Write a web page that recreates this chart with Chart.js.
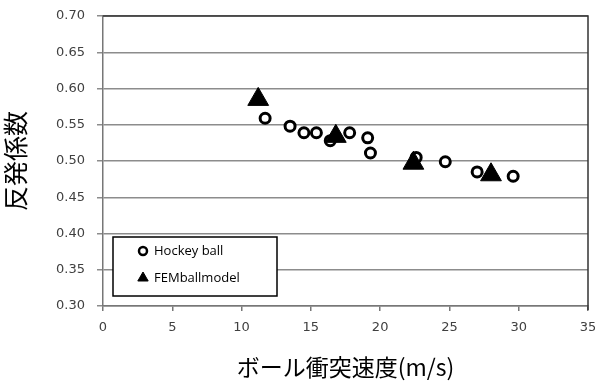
<!DOCTYPE html>
<html>
<head>
<meta charset="utf-8">
<script src="https://cdn.jsdelivr.net/npm/chart.js@4.4.0/dist/chart.umd.min.js"></script>
<style>
  html, body { margin: 0; padding: 0; background: #fff; }
  #wrap { width: 595px; height: 385px; }
</style>
</head>
<body>
<div id="wrap"><canvas id="chart" width="595" height="385"></canvas></div>
<script>
// measured values
const hockeyX = [11.7, 13.5, 14.5, 15.4, 16.4, 17.8, 19.1, 19.3, 22.6, 24.7, 27.0, 29.6];
const hockeyY = [0.559, 0.548, 0.539, 0.539, 0.528, 0.539, 0.532, 0.511, 0.505, 0.499, 0.485, 0.479];
const femX = [11.2, 16.8, 22.4, 28.0];
const femY = [0.585, 0.534, 0.497, 0.481];

const seriesNames = ['Hockey ball', 'FEMballmodel'];
const xTitle = 'ボール衝突速度(m/s)';
const yTitle = '反発係数';

function toPoints(xs, ys) {
    return xs.map((x, i) => ({ x: x, y: ys[i] }));
}

// let the plot run nearly to the right edge (the "35" label may overhang)
const stretchPlugin = {
    id: 'stretch',
    afterLayout(chart) {
        const a = chart.chartArea;
        const xs = chart.scales.x;
        const right = chart.width - 7;
        a.right = right;
        a.width = right - a.left;
        xs.right = right;
        xs.width = right - xs.left;
        xs.configure();
    }
};

// frame around plot + legend box inside the plot area
const framePlugin = {
    id: 'frame',
    afterDraw(chart) {
        const ctx = chart.ctx;
        const a = chart.chartArea;
        ctx.save();
        ctx.strokeStyle = '#333';
        ctx.lineWidth = 1.5;
        ctx.beginPath();
        ctx.moveTo(a.left, a.top);
        ctx.lineTo(a.right, a.top);
        ctx.lineTo(a.right, a.bottom + 4);
        ctx.stroke();

        // legend
        const bx = a.left + 10, bw = 164, bh = 59;
        const by = a.bottom - 10 - bh;
        ctx.fillStyle = '#fff';
        ctx.fillRect(bx, by, bw, bh);
        ctx.strokeStyle = '#000';
        ctx.lineWidth = 1.5;
        ctx.strokeRect(bx, by, bw, bh);
        ctx.font = '13px "Open Sans", sans-serif';
        ctx.textBaseline = 'middle';
        ctx.fillStyle = '#000';
        const rows = [by + 14, by + 41];
        chart.data.datasets.forEach((ds, i) => {
            const cx = bx + 30, cy = rows[i];
            ctx.save();
            ctx.lineWidth = i === 0 ? 2.5 : 1;
            ctx.strokeStyle = '#000';
            ctx.fillStyle = i === 0 ? '#fff' : '#000';
            Chart.helpers.drawPoint(ctx, {
                pointStyle: ds.pointStyle,
                radius: i === 0 ? 4 : 6,
                borderWidth: ctx.lineWidth
            }, cx, cy);
            ctx.restore();
            ctx.fillText(ds.label, bx + 41, cy);
        });
        ctx.restore();
    }
};

new Chart(document.getElementById('chart'), {
    type: 'scatter',
    data: {
        datasets: [{
            label: seriesNames[0],
            data: toPoints(hockeyX, hockeyY),
            pointStyle: 'circle',
            pointRadius: 5,
            pointBorderWidth: 3,
            borderColor: '#000',
            backgroundColor: '#fff',
            order: 2
        }, {
            label: seriesNames[1],
            data: toPoints(femX, femY),
            pointStyle: 'triangle',
            pointRadius: 12,
            pointBorderWidth: 1,
            borderColor: '#000',
            backgroundColor: '#000',
            order: 1
        }]
    },
    options: {
        responsive: false,
        animation: false,
        layout: { padding: { top: 16, right: 7, left: 0, bottom: 0 } },
        plugins: {
            legend: { display: false },
            tooltip: { enabled: false }
        },
        scales: {
            x: {
                type: 'linear',
                min: 0,
                max: 35,
                ticks: {
                    stepSize: 5,
                    color: '#404040',
                    font: { family: 'DejaVu Sans', size: 13 },
                    padding: 9
                },
                grid: {
                    drawOnChartArea: false,
                    drawTicks: true,
                    tickLength: 5,
                    color: '#777',
                    lineWidth: 1.5
                },
                border: { color: '#777', width: 1.5 },
                title: {
                    display: true,
                    text: xTitle,
                    color: '#000',
                    font: { family: '"Noto Sans CJK JP"', size: 23 },
                    padding: { top: 10 }
                },
                afterFit(scale) {
                    scale.height = 79;
                }
            },
            y: {
                min: 0.30,
                max: 0.70,
                ticks: {
                    stepSize: 0.05,
                    color: '#404040',
                    font: { family: 'DejaVu Sans', size: 13 },
                    padding: 12,
                    callback: (v) => v.toFixed(2)
                },
                grid: {
                    color: '#8c8c8c',
                    lineWidth: 1.5,
                    tickLength: 6
                },
                border: { color: '#777', width: 1.5 },
                title: {
                    display: true,
                    text: yTitle,
                    color: '#000',
                    font: { family: '"Noto Sans CJK JP"', size: 25 },
                    padding: { top: 0, bottom: 0 }
                },
                afterFit(scale) {
                    scale.width = 103;
                    scale.paddingTop = 0;
                    scale.paddingBottom = 0;
                }
            }
        }
    },
    plugins: [stretchPlugin, framePlugin]
});
</script>
</body>
</html>
